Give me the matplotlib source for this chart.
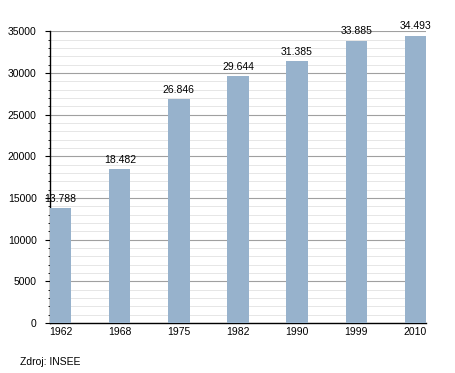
import numpy as np
import matplotlib
matplotlib.use("Agg")
import matplotlib.pyplot as plt
from matplotlib.ticker import MultipleLocator

# Dados
anos = ["1962", "1968", "1975", "1982", "1990", "1999", "2010"]
populacao = [13788, 18482, 26846, 29644, 31385, 33885, 34493]
rotulos = ["13.788", "18.482", "26.846", "29.644", "31.385", "33.885", "34.493"]

plt.rcParams['font.family'] = ['Liberation Sans', 'DejaVu Sans']

fig = plt.figure(figsize=(4.55, 3.73), dpi=100)
ax = fig.add_axes([0.110, 0.134, 0.826, 0.782])

largura = 0.36
x = np.arange(len(anos))
ax.bar(x, populacao, width=largura, align='edge', color='#97b2cc', zorder=3)

for xi, v, r in zip(x, populacao, rotulos):
    ax.text(xi + largura / 2, v + 500, r, ha='center', va='bottom', fontsize=7.5, zorder=4)

ax.set_xlim(0, len(anos) - 1 + largura)
ax.set_ylim(0, 35000)
ax.set_xticks(x + largura / 2)
ax.set_xticklabels(anos, fontsize=7.5)
ax.yaxis.set_major_locator(MultipleLocator(5000))
ax.yaxis.set_minor_locator(MultipleLocator(1000))
ax.tick_params(axis='y', labelsize=7.5, length=3.6, width=0.8, pad=6)
ax.tick_params(axis='y', which='minor', length=1.6, width=0.6)
ax.tick_params(axis='x', length=0, pad=3)

ax.grid(True, which='major', axis='y', color='#a0a0a0', linewidth=0.8, zorder=0)
ax.grid(True, which='minor', axis='y', color='#e2e2e2', linewidth=0.6, zorder=0)

for lado in ['top', 'right']:
    ax.spines[lado].set_visible(False)
ax.spines['left'].set_linewidth(1.0)
ax.spines['bottom'].set_linewidth(1.0)

fig.text(20 / 455, 1 - 362 / 373, "Zdroj: INSEE", fontsize=7.5, va='center', ha='left')

plt.savefig("out.png", dpi=100)
plt.close()
